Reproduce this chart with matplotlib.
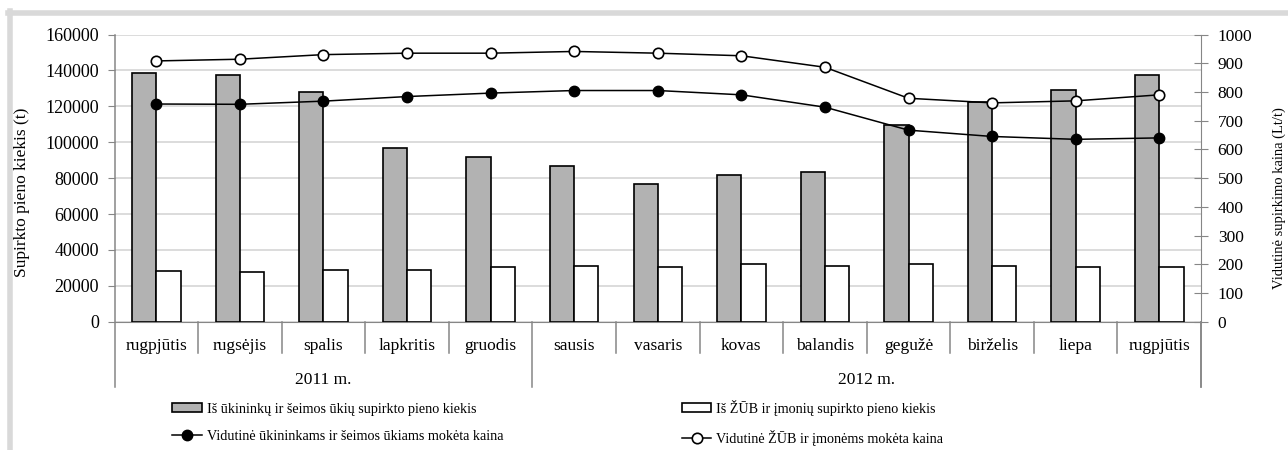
import numpy as np
import matplotlib
matplotlib.use('Agg')
import matplotlib.pyplot as plt
from matplotlib.lines import Line2D
import matplotlib.transforms as mtransforms

months = ['rugpjūtis', 'rugsėjis', 'spalis', 'lapkritis', 'gruodis', 'sausis',
          'vasaris', 'kovas', 'balandis', 'gegužė', 'birželis', 'liepa', 'rugpjūtis']
years = ['2011 m.', '2012 m.']
year_sizes = [5, 8]

farm_qty = [138500, 137500, 128000, 97000, 92000, 87000, 76500, 82000, 83500,
            109500, 122500, 129000, 137500]
coop_qty = [28500, 27700, 28600, 28600, 30300, 31200, 30300, 32000, 31200,
            32000, 31200, 30500, 30500]
farm_price = [758, 757, 768, 784, 796, 805, 805, 790, 747, 667, 645, 635, 640]
coop_price = [908, 914, 930, 935, 935, 941, 935, 926, 886, 778, 762, 769, 790]

lbl_farm_qty = 'Iš ūkininkų ir šeimos ūkių supirkto pieno kiekis'
lbl_coop_qty = 'Iš ŽŪB ir įmonių supirkto pieno kiekis'
lbl_farm_price = 'Vidutinė ūkininkams ir šeimos ūkiams mokėta kaina'
lbl_coop_price = 'Vidutinė ŽŪB ir įmonėms mokėta kaina'

plt.rcParams['font.family'] = ['Liberation Serif', 'DejaVu Serif']
plt.rcParams['font.size'] = 12.5
AX_COL = '#868686'

fig = plt.figure(figsize=(12.88, 4.5), dpi=100)
ax = fig.add_axes([0.0889, 0.2851, 0.8436, 0.6382])
ax2 = ax.twinx()

x = np.arange(len(months))
w = 0.29
ax.bar(x - w / 2, farm_qty, w, color='#b2b2b2', edgecolor='black', linewidth=1.2,
       label=lbl_farm_qty, zorder=3)
ax.bar(x + w / 2, coop_qty, w, color='white', edgecolor='black', linewidth=1.2,
       label=lbl_coop_qty, zorder=3)

ax2.plot(x, farm_price, color='black', lw=1.1, marker='o', ms=7.5,
         mfc='black', mec='black', label=lbl_farm_price)
ax2.plot(x, coop_price, color='black', lw=1.1, marker='o', ms=7.5,
         mfc='white', mec='black', mew=1.2, label=lbl_coop_price)

ax.set_xlim(-0.5, len(months) - 0.5)
ax.set_ylim(0, 160000)
ax.set_yticks(np.arange(0, 160001, 20000))
ax2.set_ylim(0, 1000)
ax2.set_yticks(np.arange(0, 1001, 100))

ax.grid(axis='y', color='#d9d9d9', lw=1.3, zorder=0)
ax.set_axisbelow(True)

for a in (ax, ax2):
    for s in a.spines.values():
        s.set_visible(False)
ax.spines['bottom'].set_visible(True)
ax.spines['bottom'].set_color(AX_COL)
ax2.spines['right'].set_visible(True)
ax2.spines['right'].set_color(AX_COL)

ax.tick_params(axis='y', direction='out', length=5, color=AX_COL, pad=6, labelsize=13)
ax2.tick_params(axis='y', direction='inout', length=10, color=AX_COL, pad=7)
ax.set_xticks(x)
ax.set_xticklabels(months)
ax.tick_params(axis='x', length=0, pad=12)

ax.set_ylabel('Supirkto pieno kiekis (t)')
ax.yaxis.set_label_coords(-0.0778, 0.452)
ax2.set_ylabel('Vidutinė supirkimo kaina (Lt/t)', fontsize=10.5)
ax2.yaxis.set_label_coords(1.066, 0.43)

# category separators below axis
trans = mtransforms.blended_transform_factory(ax.transData, ax.transAxes)
bounds = np.cumsum([0] + year_sizes) - 0.5
for b in np.arange(-0.5, len(months), 1.0):
    bottom = -0.227 if np.any(np.isclose(bounds, b)) else -0.109
    ax.add_line(Line2D([b, b], [bottom, 1 if b == -0.5 else 0], transform=trans,
                       color=AX_COL, lw=1.1, clip_on=False))
ax.add_line(Line2D([len(months) - 0.5] * 2, [-0.227, 0], transform=trans,
                   color=AX_COL, lw=1.1, clip_on=False))
for i, yr in enumerate(years):
    ax.text((bounds[i] + bounds[i + 1]) / 2, -0.203, yr, transform=trans,
            ha='center', va='center')

h1, l1 = ax.get_legend_handles_labels()
h2, l2 = ax2.get_legend_handles_labels()
fig.legend([h1[0], h2[0], h1[1], h2[1]], [l1[0], l2[0], l1[1], l2[1]],
           ncol=2, loc='upper left', bbox_to_anchor=(0.1335, 0.112),
           frameon=False, fontsize=10.2, handlelength=2.1, handleheight=0.55,
           handletextpad=0.35, columnspacing=12.6, labelspacing=1.0,
           borderaxespad=0, borderpad=0)

# light frame around the figure
fig.add_artist(Line2D([0.0078, 0.0078], [0, 0.975], color='#d9d9d9', lw=4))
fig.add_artist(Line2D([0.0062, 1], [0.972, 0.972], color='#d9d9d9', lw=4))

fig.savefig('out.png', dpi=100)
